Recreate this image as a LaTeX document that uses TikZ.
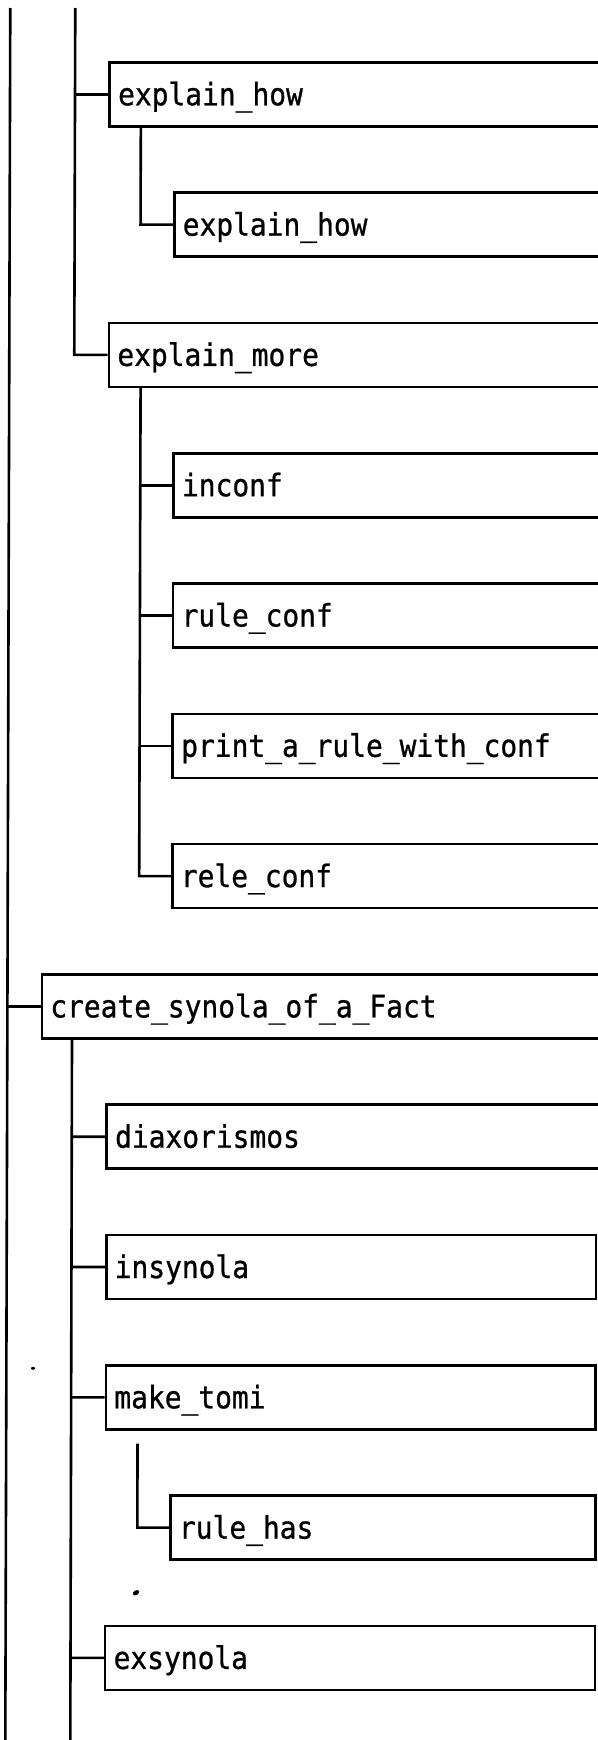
\documentclass[tikz,border=0pt]{standalone}
\usepackage{fontspec}
\usetikzlibrary{calc}
\newfontfamily\boxfont[FakeStretch=0.9, FakeBold=0.8]{DejaVu Sans Mono}
\begin{document}
\begin{tikzpicture}[x=1pt,y=-1pt]
\useasboundingbox (0,0) rectangle (597,1740);
\tikzset{
  wire/.style={line width=2.6pt},
  fn/.style={draw, line width=2.6pt, anchor=north west, minimum height=64pt,
    inner xsep=8.5pt, inner ysep=0pt, text height=22pt, text depth=0pt,
    align=left, font=\fontsize{31}{34}\selectfont\boxfont},
  % boxes running past the right margin
  lvA/.style={fn, text width=550pt},
  lvB/.style={fn, text width=480pt},
  lvC/.style={fn, text width=415pt},
  % boxes closed at the right margin
  lvBc/.style={fn, text width=472.8pt},
  lvCc/.style={fn, text width=408pt},
}
% the chart drifts slightly to the left towards the bottom
\begin{scope}[cm={1,0,0.00287,1,(0,0)}]
% procedure boxes
\node[lvB]  (how)       at (108.5,61)     {explain\_how};
\node[lvC]  (how2)      at (173.5,191.3)  {explain\_how};
\node[lvB]  (more)      at (108.5,321.6)  {explain\_more};
\node[lvC]  (inconf)    at (173.5,451.9)  {inconf};
\node[lvC]  (ruleconf)  at (173.5,582.2)  {rule\_conf};
\node[lvC]  (printrule) at (173.5,712.5)  {print\_a\_rule\_with\_conf};
\node[lvC]  (releconf)  at (173.5,842.8)  {rele\_conf};
\node[lvA]  (create)    at (43.3,973.1)   {create\_synola\_of\_a\_Fact};
\node[lvB]  (diax)      at (108.5,1103.4) {diaxorismos};
\node[lvBc] (insyn)     at (108.5,1233.7) {insynola};
\node[lvBc] (tomi)      at (108.5,1364)   {make\_tomi};
\node[lvCc] (rulehas)   at (173.5,1494.3) {rule\_has};
\node[lvBc] (exsyn)     at (108.5,1624.6) {exsynola};

% outer call line
\coordinate (rootTop) at (10.3,8);
\coordinate (rootBot) at (10.3,1740);
\draw[wire] (rootTop) -- (rootBot);
\draw[wire] ($(rootTop)!(create.west)!(rootBot)$) -- (create.west);

% calls of the parent above
\coordinate (hTop) at (75.3,8);
\coordinate (hBot) at (75.3,1740);
\draw[wire] (hTop) -- ($(hTop)!(more.west)!(hBot)$) -- (more.west);
\draw[wire] ($(hTop)!(how.west)!(hBot)$) -- (how.west);

% explain_how calls
\coordinate (hx) at ([xshift=32.5pt]how.south west);
\draw[wire] (hx) |- (how2.west);

% explain_more calls
\coordinate (mx) at ([xshift=33pt]more.south west);
\draw[wire] (mx) |- (releconf.west);
\foreach \n in {inconf,ruleconf,printrule}
  \draw[wire] (\n.west -| mx) -- (\n.west);

% create_synola_of_a_Fact calls
\coordinate (cx) at ([xshift=31.5pt]create.south west);
\coordinate (cBot) at (75.3,1740);
\draw[wire] (cx) -- (cBot);
\foreach \n in {diax,insyn,tomi,exsyn}
  \draw[wire] ($(cx)!(\n.west)!(cBot)$) -- (\n.west);

% make_tomi calls
\coordinate (tx) at ([xshift=33pt,yshift=-13pt]tomi.south west);
\draw[wire] (tx) |- (rulehas.west);
\end{scope}

% stray marks
\fill (33,1368.3) ellipse [x radius=2pt, y radius=1.5pt];
\fill[rotate around={30:(136,1592.7)}] (136,1592.7) ellipse [x radius=3.5pt, y radius=2.3pt];
\end{tikzpicture}
\end{document}
